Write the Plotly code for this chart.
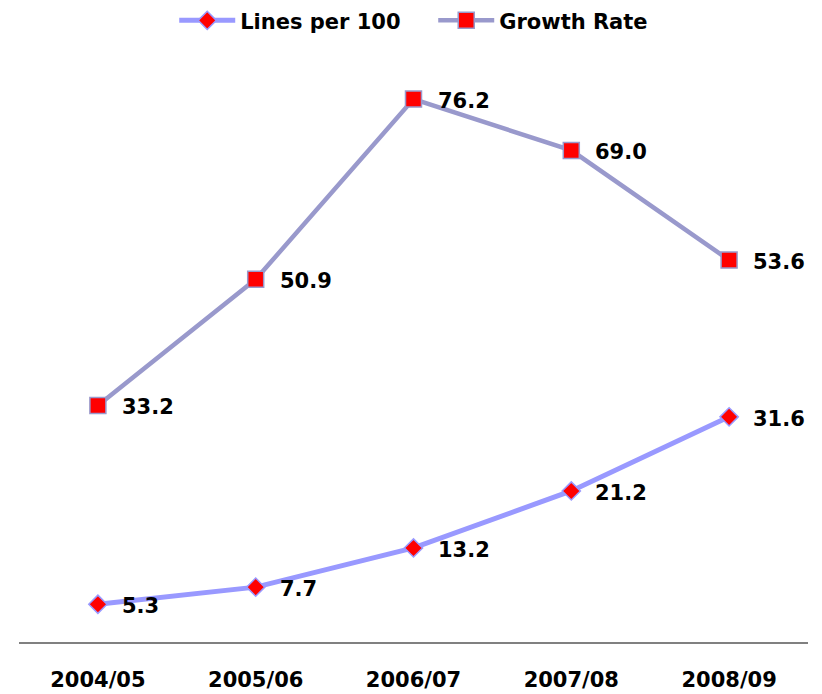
import plotly.graph_objects as go

years = ["2004/05", "2005/06", "2006/07", "2007/08", "2008/09"]
lines_per_100 = [5.3, 7.7, 13.2, 21.2, 31.6]
growth_rate = [33.2, 50.9, 76.2, 69.0, 53.6]

FONT = "DejaVu Sans"
fig = go.Figure()

fig.add_trace(go.Scatter(
    x=years, y=lines_per_100, name="Lines per 100", mode="lines+markers",
    line=dict(color="#9999FF", width=5),
    marker=dict(symbol="diamond", size=14, color="#FF0000",
                line=dict(color="#9999FF", width=1.5)),
    cliponaxis=False,
))
fig.add_trace(go.Scatter(
    x=years, y=growth_rate, name="Growth Rate", mode="lines+markers",
    line=dict(color="#9999CC", width=4.5),
    marker=dict(symbol="square", size=16, color="#FF0000",
                line=dict(color="#9999CC", width=1.5)),
    cliponaxis=False,
))

# value labels to the right of each point
for series in (lines_per_100, growth_rate):
    for x, v in zip(years, series):
        fig.add_annotation(
            x=x, y=v, text=f"{v:.1f}", showarrow=False,
            xanchor="left", yanchor="middle", xshift=22, yshift=-2,
            font=dict(family=FONT, size=21, color="#000000", weight="bold"),
        )

fig.update_layout(
    width=822, height=694,
    margin=dict(l=19, r=14, t=71.5, b=51.5, autoexpand=False),
    paper_bgcolor="white", plot_bgcolor="white",
    showlegend=True,
    legend=dict(
        orientation="h", x=0.525, xanchor="center", y=1.09, yanchor="middle",
        font=dict(family=FONT, size=21, color="#000000", weight="bold"),
        itemwidth=56, entrywidth=188, bgcolor="rgba(0,0,0,0)",
    ),
    xaxis=dict(
        type="category", range=[-0.5, 4.5], automargin=False,
        showline=True, linecolor="#808080", linewidth=2,
        showgrid=False, zeroline=False, ticks="",
        ticklabelstandoff=18,
        tickfont=dict(family=FONT, size=21, color="#000000", weight="bold"),
    ),
    yaxis=dict(
        range=[0, 80], visible=False, showgrid=False, zeroline=False,
    ),
)

fig.write_html("out.html")
